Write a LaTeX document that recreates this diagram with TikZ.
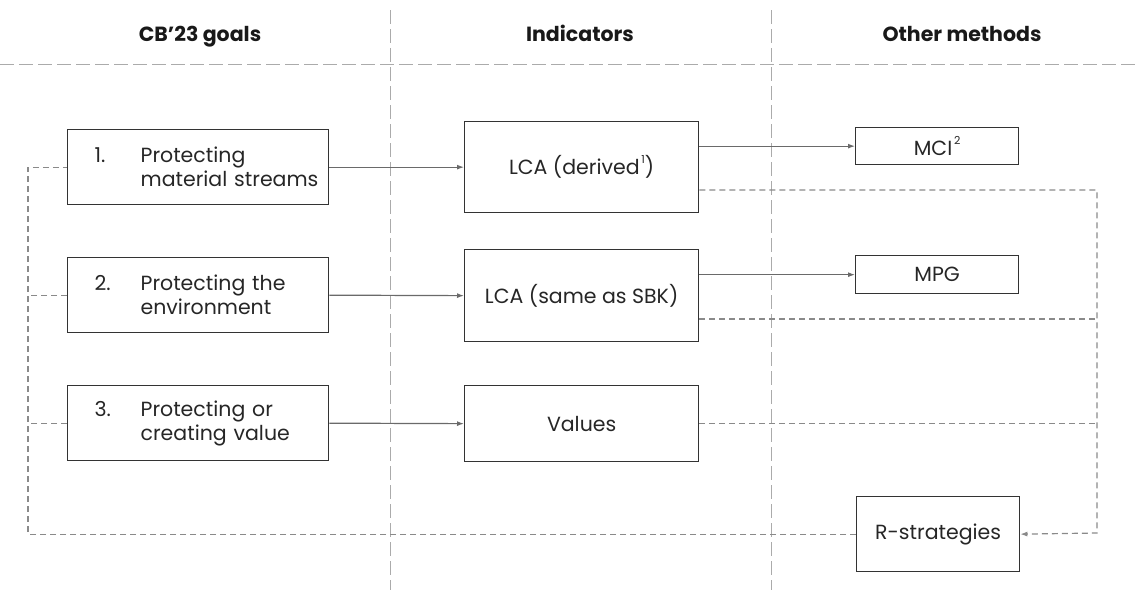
\documentclass[tikz,border=0pt]{standalone}
\usepackage{fontspec}
\setmainfont{Poppins}
\usetikzlibrary{arrows.meta,calc}
\definecolor{boxline}{HTML}{333333}
\definecolor{flowline}{HTML}{6A6A6A}
\definecolor{linkline}{HTML}{8A8A8A}
\definecolor{divline}{HTML}{ABABAB}
\definecolor{bodytext}{HTML}{262626}
\newcommand{\goalline}[2]{\hspace*{27pt}\makebox[46pt][l]{#1}#2}
\newcommand{\notemark}[1]{\raisebox{0.55em}{\fontsize{11}{11}\selectfont\,#1}}
\begin{document}
\begin{tikzpicture}[x=1pt,y=-1pt,
  basebox/.style={draw=boxline, line width=1.3pt, anchor=north west, inner sep=0pt,
    font=\fontsize{20.5}{24}\selectfont, text=bodytext},
  goalbox/.style={basebox, minimum width=261pt, minimum height=75pt,
    text width=261pt, align=left},
  indbox/.style={basebox, minimum width=234pt, align=center},
  methbox/.style={basebox, minimum width=163pt, align=center},
  header/.style={font=\fontsize{20.5}{24}\selectfont\bfseries, text=black!90, anchor=base},
  divider/.style={draw=divline, line width=1pt, dash pattern=on 14pt off 5pt},
  flow/.style={draw=flowline, line width=1.2pt, -{Latex[length=7pt,width=5pt]}},
  link/.style={draw=linkline, line width=1.2pt, dash pattern=on 6pt off 4pt},
  linkarrow/.style={link, -{Latex[length=7pt,width=5pt]}}]
\useasboundingbox (0,0) rectangle (1135,590);

% column dividers and header rule
\draw[divider] (390,10) -- (390,590);
\draw[divider] (771,10) -- (771,590);
\draw[divider] (0,64) -- (1135,64);

% column headers
\node[header] (h1) at (200,41) {CB’23 goals};
\node[header] (h2) at (580,41) {Indicators};
\node[header] (h3) at (962,41) {Other methods};

% goals
\node[goalbox] (g1) at (67,129) {\goalline{1.}{Protecting}\\\goalline{}{material streams}};
\node[goalbox] (g2) at (67,257) {\goalline{2.}{Protecting the}\\\goalline{}{environment}};
\node[goalbox] (g3) at (67,385) {\goalline{3.}{Protecting or}\\\goalline{}{creating value}};

% indicators
\node[indbox, minimum height=91pt] (i1) at (464,121) {LCA (derived\notemark{1})};
\node[indbox, minimum height=92pt] (i2) at (464,249) {LCA (same as SBK)};
\node[indbox, minimum height=76pt] (i3) at (464,385) {Values};

% other methods
\node[methbox, minimum height=37pt] (m1) at (855,127) {MCI\notemark{2}};
\node[methbox, minimum height=38pt] (m2) at (855,255) {MPG};
\node[methbox, minimum height=75pt] (m3) at (856,496) {R-strategies};

% goal -> indicator
\draw[flow] (g1.east) -- (i1.west);
\draw[flow] (g2.east) -- (i2.west);
\draw[flow] (g3.east) -- (i3.west);

% indicator -> method
\draw[flow] (i1.east |- m1.west) -- (m1.west);
\draw[flow] (i2.east |- m2.west) -- (m2.west);

% right feedback rail into R-strategies
\coordinate (rrail) at (1097,533);
\coordinate (o1) at ($(i1.north east)!0.747!(i1.south east)$);
\coordinate (o2) at ($(i2.north east)!0.75!(i2.south east)$);
\draw[linkarrow] (o1) -| (rrail) -- (m3.east);
\draw[link] (o2) -- (o2 -| rrail);
\draw[link] (i3.east) -- (i3.east -| rrail);

% left feedback rail back to the goals
\coordinate (lrail) at (28,533);
\draw[link] (m3.west) -- (m3.west -| lrail) |- (g1.west);
\draw[link] (g2.west) -- (g2.west -| lrail);
\draw[link] (g3.west) -- (g3.west -| lrail);
\end{tikzpicture}
\end{document}
